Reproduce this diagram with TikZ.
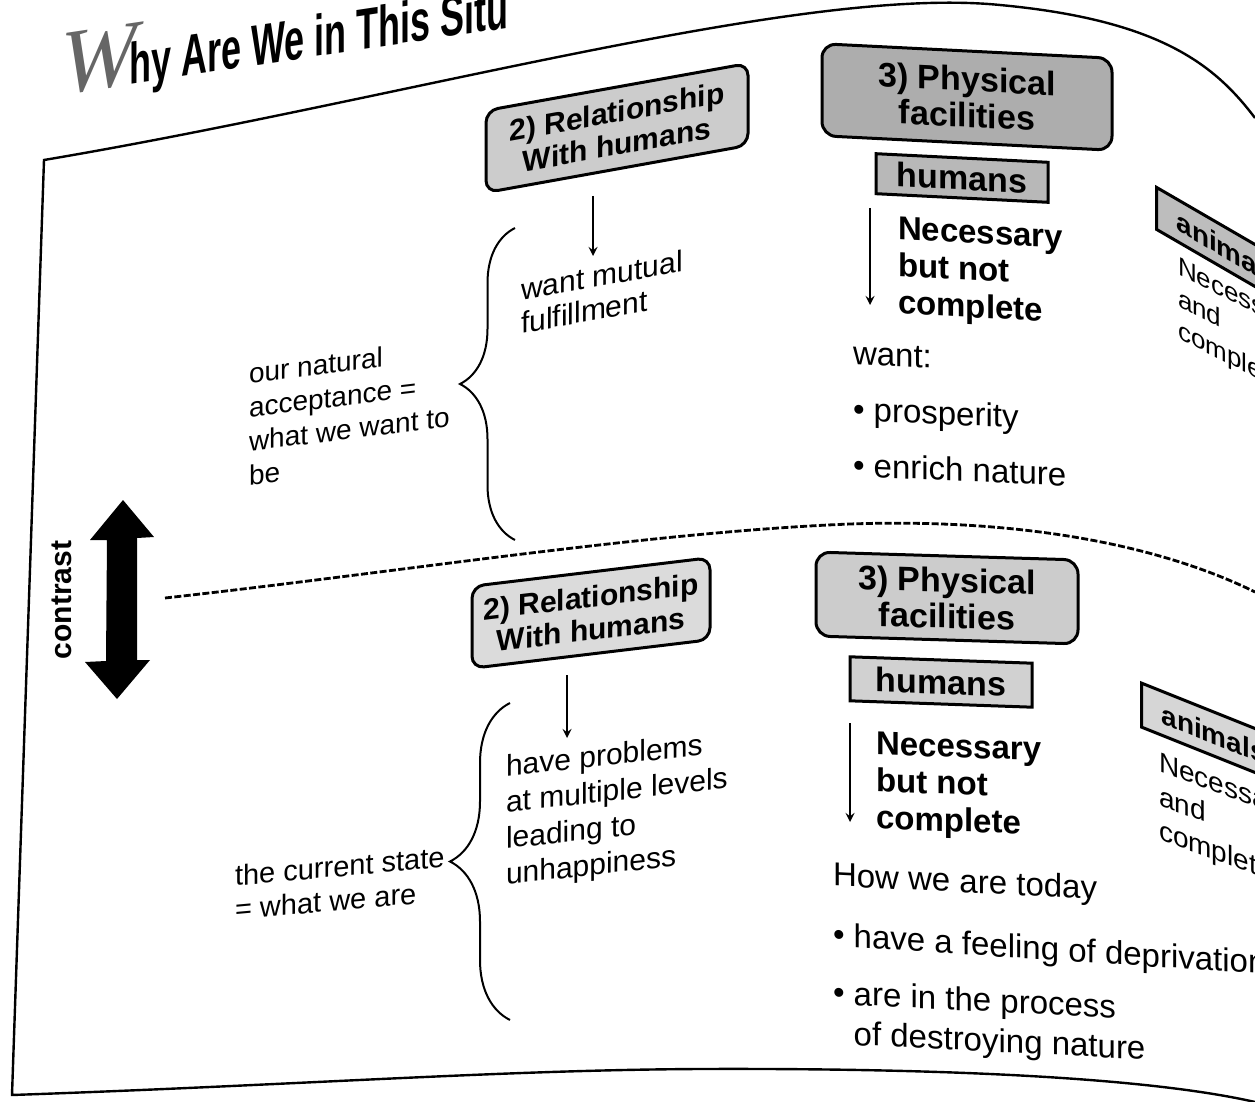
\documentclass[tikz,border=0pt]{standalone}
\usepackage{fontspec}
\setmainfont{Liberation Sans}
\newfontfamily\titlefont{Liberation Serif}
\usetikzlibrary{decorations.pathreplacing}
\newcommand{\fsz}[2]{\fontsize{#1}{#2}\selectfont}

\begin{document}
\begin{tikzpicture}[x=0.5pt, y=-0.5pt, >=stealth, line width=1pt,
    relbox/.style={draw, line width=1.5pt, rounded corners=6pt, align=center, font=\bfseries\fsz{15}{16.5}, inner sep=2pt},
    physbox/.style={draw, line width=1.5pt, rounded corners=7pt, align=center, font=\bfseries\fsz{17}{18}, inner sep=2pt},
    whobox/.style={draw, line width=1.5pt, font=\bfseries\fsz{17}{18}, inner sep=2pt},
    txt/.style={inner sep=0pt, anchor=north west, align=left},
    brc/.style={decorate, line width=1pt}]
  \useasboundingbox (0,0) rectangle (1255,1102);

  % heading, cut off at the page edge
  \begin{scope}
    \clip (0,0) rectangle (505,140);
    \node[anchor=base west, inner sep=0pt, yslant=0.15] (title) at (60,95)
      {{\titlefont\itshape\color{black!60}\fsz{46}{46}W}\kern-4pt\scalebox{0.62}[1]{\bfseries\fsz{29}{29}hy Are We in This Situation?}};
  \end{scope}

  % page frame
  \draw[line width=1.2pt] (1255,118) .. controls (1215,65) and (1160,20) .. (1000,5)
    .. controls (800,-15) and (400,100) .. (44,160) -- (12,1095)
    .. controls (300,1085) and (500,1070) .. (700,1069)
    .. controls (950,1068) and (1150,1078) .. (1255,1102);

  % upper half: what we want to be
  \node[relbox, fill=black!20, minimum width=131pt, minimum height=41pt, yslant=0.18] (rel1) at (617,128) {2) Relationship\\With humans};
  \node[txt, font=\fsz{15}{16.5}, yslant=0.18] (want1) at (520,278) {want mutual\\fulfillment};
  \node[txt, font=\fsz{14}{17}, yslant=0.12] (natural) at (248,362) {our natural\\acceptance =\\what we want to\\be};
  \draw[brc, decoration={brace, amplitude=27.5pt}] (515,540) -- (515,228);

  \node[physbox, fill=black!32, minimum width=145pt, minimum height=46pt, yslant=-0.05] (phys1) at (967,97) {3) Physical\\facilities};
  \node[whobox, fill=black!28, minimum width=86pt, minimum height=20pt, yslant=-0.05] (hum1) at (962,178) {humans};
  \node[txt, font=\bfseries\fsz{16.5}{18.5}, yslant=-0.05] (nec1) at (897,216) {Necessary\\but not\\complete};
  \node[txt, font=\fsz{16.5}{28}, yslant=-0.045] (wants) at (852,342) {want:\\• prosperity\\• enrich nature};

  \node[whobox, fill=black!26, font=\bfseries\fsz{14}{15}, anchor=north west, inner xsep=10pt, minimum height=21pt, yslant=-0.58] (anim1) at (1155,185) {animals};
  \node[txt, font=\fsz{13}{16}, yslant=-0.5] (anim1txt) at (1177,255) {Necessary\\and\\complete};

  \coordinate (r1a) at (593,196);
  \coordinate (r1b) at (593,256);
  \coordinate (h1a) at (870,208);
  \coordinate (h1b) at (870,305);
  \draw[->] (r1a) -- (r1b);
  \draw[->] (h1a) -- (h1b);

  % dividing line and the contrast arrow
  \draw[line width=1.4pt, dash pattern=on 3.5pt off 1.2pt] (165,598) .. controls (400,572) and (650,532) .. (850,524)
    .. controls (1020,518) and (1160,545) .. (1255,592);
  \fill (123,500) -- (154,537) -- (137,538) -- (137,660) -- (150,660) -- (117,699) -- (85,662)
    -- (106,661) -- (107,540) -- (90,540) -- cycle;
  \node[font=\bfseries\fsz{15}{15}, rotate=90] (contrast) at (62,600) {contrast};

  % lower half: what we are
  \node[relbox, fill=black!14, minimum width=119pt, minimum height=41pt, yslant=0.12] (rel2) at (591,613) {2) Relationship\\With humans};
  \node[txt, font=\fsz{15}{18}, yslant=0.11] (problems) at (505,754) {have problems\\at multiple levels\\leading to\\unhappiness};
  \node[txt, font=\fsz{14.5}{17}, yslant=0.09] (current) at (234,864) {the current state\\= what we are};
  \draw[brc, decoration={brace, amplitude=30pt}] (510,1020) -- (510,703);

  \node[physbox, fill=black!20, minimum width=131pt, minimum height=42pt, yslant=-0.03] (phys2) at (947,598) {3) Physical\\facilities};
  \node[whobox, fill=black!18, minimum width=91pt, minimum height=22pt, yslant=-0.035] (hum2) at (941,682) {humans};
  \node[txt, font=\bfseries\fsz{16.5}{18.5}, yslant=-0.035] (nec2) at (875,731) {Necessary\\but not\\complete};
  \node[txt, font=\fsz{16.5}{18}, yslant=-0.05] (today) at (832,861) {How we are today};
  \node[txt, font=\fsz{16.5}{18}, yslant=-0.065] (bul1) at (832,921) {• have a feeling of deprivation};
  \node[txt, font=\fsz{16.5}{20}, yslant=-0.05] (bul2) at (832,979) {• are in the process\\\phantom{• }of destroying nature};

  \node[whobox, fill=black!16, font=\bfseries\fsz{14}{15}, anchor=north west, inner xsep=10pt, minimum height=22pt, yslant=-0.4] (anim2) at (1140,681) {animals};
  \node[txt, font=\fsz{14}{17}, yslant=-0.36] (anim2txt) at (1158,751) {Necessary\\and\\complete};

  \coordinate (r2a) at (567,675);
  \coordinate (r2b) at (567,738);
  \coordinate (h2a) at (850,723);
  \coordinate (h2b) at (850,822);
  \draw[->] (r2a) -- (r2b);
  \draw[->] (h2a) -- (h2b);
\end{tikzpicture}
\end{document}
